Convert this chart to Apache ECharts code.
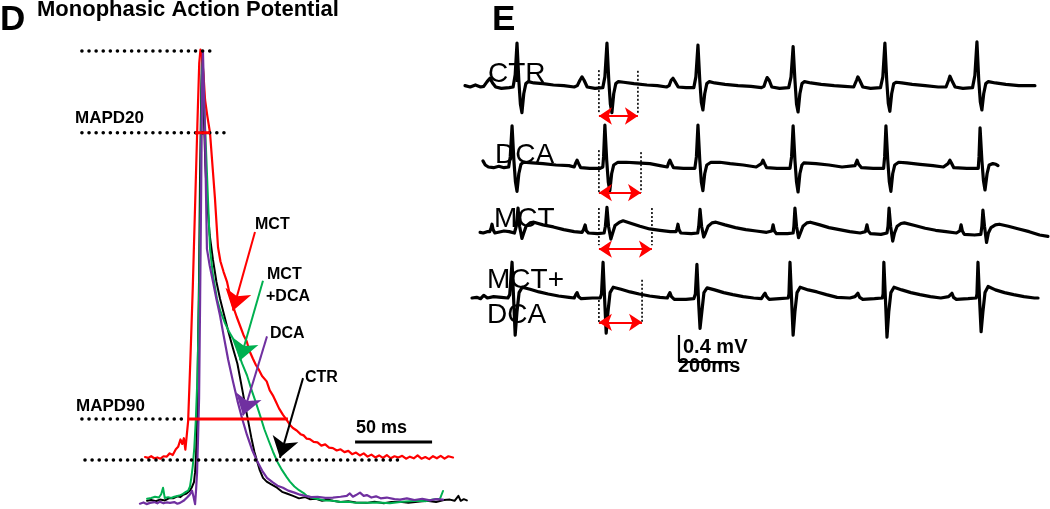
<!DOCTYPE html>
<html><head><meta charset="utf-8">
<script src="https://cdn.jsdelivr.net/npm/echarts/dist/echarts.min.js"></script>
<style>html,body{margin:0;padding:0;background:#fff;overflow:hidden}#c{width:1050px;height:509px}</style>
</head><body><div id="c"></div>
<script>
// ===== Panel D: monophasic action potentials, [time ms (0 = peak), amplitude % of peak] =====
const mapMCT = [[-37,0.7],[-35,0.5],[-33,0.9],[-31,0.4],[-29,0.6],[-27,0.3],[-25,0.9],[-23,0.8],[-21,1.6],[-19,1.2],[-17,2.6],[-15.5,3.2],[-14,5.0],[-12.8,3.9],[-11.8,5.3],[-10.8,2.5],[-10,2.2],[-9,9.5],[-7.5,25],[-6,42],[-4.5,62],[-3,82],[-1.8,97],[-1,100.3],[0,99],[1,94],[2,88],[3.5,84],[5.2,80],[7,71],[8.4,64],[10.4,52],[12,48.5],[14,46],[16.2,43.6],[18,40.5],[20,37.7],[22.5,35],[24.7,32.8],[27,30.5],[29,29],[31,26.5],[33,24.8],[35,23.2],[37,22],[39,20.5],[42,19.2],[44,17],[46,15.8],[48,14.2],[50,12.6],[52.6,11],[55,9.8],[57,8.6],[59,7.8],[61.5,7.2],[64,6.3],[66,6.0],[68,5.2],[70,5.1],[72.5,4.4],[75,4.3],[77.5,3.5],[80,3.8],[82.5,3.0],[85,2.9],[87.5,2.3],[90,2.6],[92.5,1.9],[95,2.2],[97.5,1.4],[100,1.8],[102.5,1.1],[105,1.6],[107.5,0.8],[110,1.3],[112.5,0.6],[115,1.1],[117.5,0.5],[120,1.2],[122.5,0.4],[125,0.9],[127.5,0.6],[130,1.0],[132.5,0.3],[135,0.8],[137.5,0.4],[140,1.1],[142.5,0.3],[145,0.7],[147.5,0.2],[150,0.9],[152.5,0.4],[155,1.0],[157.5,0.3],[160,0.9],[163,0.6]];
const mapMCTDCA = [[-35.7,-9.5],[-33,-9.3],[-30.5,-9.0],[-28,-9.2],[-26.5,-8.4],[-25.3,-6.8],[-24.2,-9.3],[-22,-9.1],[-20,-9.3],[-18,-9.0],[-16,-8.8],[-14,-8.6],[-12.3,-8.3],[-10.5,-7.8],[-9,-7.5],[-7.8,-6.5],[-7,-4.5],[-6,-1.5],[-5,3],[-4,10],[-3,20],[-2,38],[-1,62],[-0.3,90],[0.3,99.5],[1.3,88],[2.6,76],[3.9,63.7],[5.2,51.6],[7,45.5],[9.7,39.4],[12,36.3],[15,33.4],[17.5,31.4],[20.1,29.7],[23,26.8],[26,23.6],[29.2,20.7],[32,17.3],[35,14],[37.7,10.9],[40.5,7.5],[43.5,4.5],[46.1,2.0],[49,-0.5],[52,-2.5],[55,-4.2],[57.1,-5.3],[60,-6.5],[63,-7.4],[66,-8.1],[68.2,-8.8],[72,-9.3],[76,-9.6],[80,-9.9],[85,-10.0],[90,-10.3],[95,-10.2],[100,-10.5],[107,-10.5],[115,-10.4],[122,-10.6],[130,-10.2],[139.6,-10.0],[145,-10.1],[150,-9.7],[154.5,-9.5],[156.5,-7.6]];
const mapCTR = [[-35.7,-10.0],[-33,-9.8],[-30,-10.1],[-27.3,-9.7],[-24,-9.9],[-21,-9.3],[-18.8,-9.4],[-16,-8.9],[-14,-9.1],[-12.3,-8.5],[-10,-8.2],[-7.8,-7.5],[-6.5,-6.6],[-5.2,-5.4],[-4.5,-3],[-3.9,0.5],[-3.2,10],[-2.6,27],[-1.9,45],[-1.3,68.6],[-0.5,90],[0,99],[0.6,97],[1.3,83],[2.2,72],[3.2,63.7],[5,55],[7.1,49],[9.4,43.5],[11.7,39.4],[14,36],[17,31.5],[20.1,27.3],[23,23.5],[26,17.5],[29.2,11],[32,5.5],[34,2],[35.7,-0.2],[37.5,-2.5],[39.6,-4.4],[42,-5.3],[45,-6.0],[48.7,-6.8],[52,-7.8],[55,-8.2],[59.1,-8.8],[63,-9.4],[67,-9.1],[70,-9.6],[74,-9.5],[78,-10.0],[82,-9.7],[85,-10.0],[90,-10.3],[95,-10.1],[100,-10.4],[107,-10.5],[112,-10.2],[118,-10.6],[123,-10.3],[128.6,-10.2],[134,-10.5],[140,-10.2],[146,-10.0],[152,-10.3],[157,-9.8],[161,-9.7],[164,-10.0],[166.5,-8.8],[168,-10.0],[170,-9.6],[172,-9.9]];
const mapDCA = [[-40.3,-10.7],[-38,-10.4],[-36,-10.8],[-33.8,-10.5],[-31,-10.3],[-29,-10.6],[-27.3,-10.2],[-25,-10.6],[-23,-10.4],[-20.8,-10.5],[-18,-10.3],[-16,-10.7],[-14.3,-10.5],[-12,-10.0],[-9.7,-9.2],[-8,-8.5],[-6.5,-7.5],[-5.5,-9.0],[-4.5,-10.8],[-3.8,-7],[-3.2,-3],[-2.6,5],[-1.9,15],[-1.2,40],[-0.6,63.7],[0,90],[0.6,100],[1.2,91],[1.9,80.8],[2.6,65],[3.2,51.6],[5,47.5],[7.1,43.6],[9.4,39.3],[11.7,35.3],[14,30.5],[17,24.5],[20.1,19.2],[23,14.5],[26,10.2],[29.2,6.1],[32.5,2.5],[35.7,-0.2],[39,-2.6],[42.2,-4.4],[46,-5.5],[49,-6.3],[52.6,-6.8],[56,-7.5],[60,-8.0],[63.6,-8.5],[67,-8.8],[71,-9.1],[75,-9.0],[80,-9.3],[85,-9.2],[90,-9.0],[94,-8.8],[96,-8.2],[98,-9.0],[100,-8.6],[102.6,-8.0],[105,-8.8],[107,-8.6],[110,-9.2],[113,-8.9],[116,-9.4],[120,-9.2],[125,-9.6],[128.6,-9.7],[133,-9.4],[138,-9.8],[143,-9.5],[148,-9.9],[152,-9.6],[156.5,-9.7]];
// reference levels (% of peak) and their extents (ms)
const levelPeak = [[-78,100],[6.5,100]];
const levelMAPD20 = [[-78,80],[15,80]];
const levelMAPD90 = [[-78,10],[-9,10]];
const levelBase = [[-76,0],[128.6,0]];
const durMAPD20 = [[-4.5,80],[5.2,80]];
const durMAPD90 = [[-9.1,10],[55.8,10]];
const scaleBar50ms = [[99.4,4.4],[149.4,4.4]];
// label arrows [from, to]
const arrowMCT = [[34.4,55.7],[20.1,36.5]];
const arrowMCTDCA = [[39.6,43.8],[24.7,24.3]];
const arrowDCA = [[42.2,30.2],[26.6,10.9]];
const arrowCTR = [[65.6,20],[50.6,0.5]];

// ===== Panel E: ECG traces, [time ms, mV] =====
const ecgCTR = [[0,0.02],[20,0.0],[40,0.03],[60,0.0],[72,0.01],[85,0.08],[96,0.13],[106,0.06],[118,0.0],[140,-0.02],[170,-0.01],[185,0.0],[193,0.18],[200,0.65],[207,0.1],[213,-0.25],[219,-0.38],[226,-0.1],[234,0.05],[244,0.08],[265,0.06],[300,0.05],[340,0.03],[380,0.02],[420,0.0],[432,0.02],[442,0.1],[450,0.15],[458,0.1],[470,0.0],[500,-0.02],[530,-0.01],[538,0.15],[546,0.65],[553,0.1],[559,-0.25],[565,-0.38],[572,-0.1],[580,0.05],[590,0.08],[610,0.07],[650,0.05],[700,0.03],[740,0.02],[775,0.0],[785,0.02],[793,0.1],[800,0.13],[808,0.08],[820,0.0],[850,-0.01],[880,-0.01],[888,0.15],[896,0.62],[903,0.1],[909,-0.23],[915,-0.34],[922,-0.1],[930,0.05],[940,0.08],[960,0.06],[1000,0.04],[1050,0.02],[1100,0.01],[1140,-0.01],[1150,0.01],[1156,0.08],[1162,0.14],[1170,0.1],[1180,0.0],[1210,-0.02],[1245,-0.01],[1254,0.15],[1262,0.6],[1269,0.1],[1275,-0.25],[1281,-0.37],[1288,-0.1],[1296,0.05],[1306,0.08],[1330,0.06],[1370,0.04],[1420,0.02],[1460,0.01],[1495,0.0],[1502,0.02],[1506,0.1],[1511,0.15],[1518,0.1],[1530,0.0],[1560,-0.02],[1598,-0.01],[1607,0.15],[1615,0.65],[1622,0.1],[1628,-0.24],[1634,-0.36],[1641,-0.1],[1649,0.05],[1659,0.07],[1680,0.06],[1720,0.04],[1770,0.02],[1820,0.0],[1850,0.0],[1856,0.02],[1860,0.1],[1865,0.16],[1872,0.1],[1885,0.0],[1915,-0.02],[1952,-0.01],[1961,0.17],[1969,0.67],[1976,0.1],[1982,-0.22],[1988,-0.34],[1995,-0.1],[2003,0.05],[2013,0.08],[2040,0.06],[2080,0.04],[2130,0.02],[2192,0.02]];
const ecgDCA = [[69,0.09],[78,0.03],[90,0.0],[110,-0.01],[130,0.01],[150,-0.01],[168,0.0],[174,0.15],[181,0.61],[188,0.1],[194,-0.22],[200,-0.36],[207,-0.1],[215,0.04],[225,0.07],[260,0.06],[300,0.05],[350,0.03],[400,0.02],[420,0.0],[426,0.06],[431,0.1],[437,0.05],[445,-0.01],[480,-0.02],[520,-0.02],[530,0.0],[533,0.15],[538,0.62],[545,0.1],[551,-0.22],[557,-0.35],[564,-0.1],[572,0.03],[588,0.07],[620,0.07],[660,0.06],[711,0.05],[750,0.02],[778,0.0],[783,0.06],[788,0.1],[794,0.05],[802,-0.01],[840,-0.02],[884,-0.02],[890,0.15],[896,0.62],[903,0.1],[909,-0.22],[915,-0.35],[922,-0.1],[930,0.03],[946,0.07],[980,0.07],[1020,0.05],[1070,0.03],[1120,0.0],[1140,0.05],[1146,0.1],[1152,0.05],[1160,-0.01],[1200,-0.02],[1250,-0.02],[1256,0.15],[1262,0.61],[1269,0.1],[1275,-0.22],[1281,-0.37],[1288,-0.1],[1296,0.03],[1303,0.06],[1310,0.07],[1350,0.05],[1400,0.03],[1450,0.0],[1500,0.02],[1508,0.1],[1514,0.04],[1525,-0.01],[1570,-0.02],[1610,-0.02],[1614,0.15],[1619,0.61],[1626,0.1],[1632,-0.22],[1638,-0.36],[1645,-0.1],[1653,0.03],[1668,0.07],[1700,0.06],[1750,0.04],[1800,0.02],[1840,0.0],[1858,0.05],[1865,0.1],[1872,0.05],[1880,-0.01],[1930,-0.02],[1974,-0.02],[1977,0.15],[1981,0.58],[1988,0.1],[1994,-0.2],[2000,-0.34],[2008,-0.1],[2016,0.03],[2030,0.05],[2042,0.04],[2050,0.02]];
const ecgMCT = [[58,0.01],[70,0.0],[85,0.02],[95,0.02],[100,0.07],[104,0.13],[108,0.05],[115,0.0],[150,0.03],[170,0.02],[190,0.0],[197,0.1],[204,0.37],[210,0.1],[219,-0.08],[226,0.0],[235,0.1],[250,0.15],[265,0.16],[300,0.12],[340,0.09],[380,0.05],[420,0.02],[450,0.01],[456,0.05],[462,0.12],[467,0.03],[475,0.0],[510,-0.01],[535,0.0],[540,0.1],[546,0.38],[552,0.1],[561,-0.09],[568,0.0],[577,0.11],[594,0.16],[608,0.18],[640,0.14],[673,0.1],[710,0.06],[750,0.04],[790,0.02],[812,0.02],[816,0.07],[819,0.13],[823,0.05],[830,0.0],[870,-0.01],[895,0.0],[899,0.1],[904,0.35],[910,0.1],[918,-0.06],[925,0.0],[935,0.1],[950,0.15],[965,0.16],[1000,0.12],[1040,0.08],[1080,0.05],[1120,0.03],[1160,0.01],[1180,0.03],[1185,0.12],[1190,0.03],[1198,-0.01],[1240,-0.01],[1262,0.0],[1265,0.1],[1269,0.37],[1275,0.1],[1283,-0.07],[1290,0.0],[1300,0.1],[1315,0.15],[1328,0.16],[1365,0.12],[1400,0.08],[1440,0.05],[1480,0.02],[1520,0.0],[1540,0.02],[1546,0.12],[1551,0.03],[1560,-0.01],[1600,-0.02],[1623,0.0],[1627,0.1],[1631,0.37],[1637,0.1],[1645,-0.12],[1652,0.0],[1662,0.1],[1677,0.14],[1690,0.15],[1730,0.11],[1770,0.07],[1810,0.04],[1850,0.02],[1890,0.0],[1903,0.03],[1908,0.12],[1913,0.03],[1920,-0.02],[1960,-0.03],[1984,-0.02],[1988,0.1],[1992,0.34],[1998,0.1],[2006,-0.14],[2013,0.0],[2023,0.08],[2040,0.12],[2055,0.13],[2090,0.1],[2130,0.06],[2170,0.02],[2210,-0.03],[2242,-0.05]];
const ecgMCTDCA = [[27,0.0],[45,0.01],[60,-0.01],[72,0.04],[79,0.06],[86,0.0],[110,0.02],[140,0.01],[165,0.0],[172,0.05],[181,0.53],[188,-0.1],[193,-0.55],[200,-0.2],[208,0.08],[220,0.16],[250,0.13],[285,0.09],[320,0.06],[360,0.03],[400,0.01],[420,0.0],[426,0.05],[431,0.08],[437,0.02],[447,-0.01],[490,0.0],[520,0.0],[525,0.06],[531,0.53],[538,-0.1],[543,-0.52],[550,-0.2],[558,0.08],[570,0.16],[600,0.13],[635,0.09],[670,0.06],[710,0.03],[750,0.01],[778,0.0],[783,0.04],[788,0.08],[794,0.02],[805,-0.02],[850,-0.02],[880,-0.01],[886,0.06],[892,0.5],[899,-0.1],[904,-0.45],[911,-0.2],[919,0.08],[931,0.15],[960,0.12],[995,0.08],[1030,0.05],[1070,0.02],[1110,0.0],[1140,-0.01],[1148,0.04],[1154,0.07],[1160,0.02],[1170,-0.02],[1210,-0.01],[1243,0.0],[1246,0.06],[1250,0.53],[1257,-0.1],[1262,-0.55],[1269,-0.2],[1277,0.08],[1289,0.16],[1320,0.12],[1354,0.09],[1390,0.05],[1431,0.01],[1480,0.0],[1500,0.02],[1511,0.07],[1518,0.01],[1530,-0.02],[1575,-0.01],[1605,0.0],[1608,0.06],[1611,0.53],[1618,-0.1],[1623,-0.58],[1630,-0.2],[1638,0.08],[1650,0.16],[1680,0.12],[1715,0.08],[1750,0.05],[1790,0.02],[1830,0.0],[1860,0.02],[1873,0.07],[1879,0.01],[1890,-0.02],[1935,-0.01],[1966,0.0],[1969,0.06],[1973,0.53],[1980,-0.1],[1985,-0.5],[1992,-0.2],[2000,0.08],[2012,0.17],[2040,0.12],[2075,0.08],[2110,0.05],[2150,0.02],[2190,0.0],[2204,0.0]];
// QT-interval markers: [start ms, end ms, dotted top mV (start), dotted top mV (end), bottom mV, arrow mV]
const qtCTR = [515, 665, 0.25, 0.24, -0.385, -0.43];
const qtDCA = [515, 677, 0.25, 0.22, -0.38, -0.38];
const qtMCT = [515, 719, 0.37, 0.37, -0.18, -0.24];
const qtMCTDCA = [515, 681, -0.03, 0.27, -0.37, -0.36];
// ECG scale bars: 0.4 mV and 200 ms
const ecgScaleOrigin = [823, -0.948];
const ecgScaleMv = 0.4;
const ecgScaleMs = 200;

// ===== layout =====
const DG = {x0: 202, pxPerMs: 1.54, y0: 462, pxPerUnit: 4.11, xMin: -80, xMax: 175, yMin: -12, yMax: 105};
const EG = {left: 465, pxPerMs: 0.26, xMax: 2250, pxPerMv: 67.5, yMin: -1.2, yMax: 1.0, baselines: [87, 167, 233, 298]};

const grids = [{
  left: DG.x0 + DG.xMin * DG.pxPerMs, width: (DG.xMax - DG.xMin) * DG.pxPerMs,
  top: DG.y0 - DG.yMax * DG.pxPerUnit, height: (DG.yMax - DG.yMin) * DG.pxPerUnit
}];
EG.baselines.forEach(b => grids.push({
  left: EG.left, width: EG.xMax * EG.pxPerMs,
  top: b - EG.yMax * EG.pxPerMv, height: (EG.yMax - EG.yMin) * EG.pxPerMv
}));
const xAxes = grids.map((g, i) => ({type: 'value', gridIndex: i, show: false,
  min: i === 0 ? DG.xMin : 0, max: i === 0 ? DG.xMax : EG.xMax}));
const yAxes = grids.map((g, i) => ({type: 'value', gridIndex: i, show: false,
  min: i === 0 ? DG.yMin : EG.yMin, max: i === 0 ? DG.yMax : EG.yMax}));

const series = [];
function trace(data, color, width, gi, z) {
  series.push({type: 'line', xAxisIndex: gi, yAxisIndex: gi, data: data, showSymbol: false, symbol: 'none',
    silent: true, z: z || 2, lineStyle: {color: color, width: width, join: 'round', cap: 'round'}});
}
const dots = {type: [0.1, 7], cap: 'round'};
function seg(data, color, width, gi, dash, z) {
  series.push({type: 'line', xAxisIndex: gi, yAxisIndex: gi, data: data, showSymbol: false, symbol: 'none',
    silent: true, z: z || 3, lineStyle: Object.assign({color: color, width: width}, dash || {})});
}
function arrows(list, gi, syms, size, width) {
  series.push({type: 'lines', coordinateSystem: 'cartesian2d', xAxisIndex: gi, yAxisIndex: gi, silent: true, z: 4,
    symbol: syms, symbolSize: size,
    data: list.map(a => ({coords: a.c, lineStyle: {color: a.color, width: width, opacity: 1}}))});
}

// Panel D traces
trace(mapCTR, '#000000', 2, 0);
trace(mapMCTDCA, '#00B050', 2, 0);
trace(mapMCT, '#FF0000', 2.2, 0);
trace(mapDCA, '#7030A0', 2.2, 0);
seg(levelPeak, '#000', 3.5, 0, dots);
seg(levelMAPD20, '#000', 3.5, 0, dots);
seg(levelMAPD90, '#000', 3.5, 0, dots);
seg(levelBase, '#000', 3.5, 0, dots);
seg(durMAPD20, '#FF0000', 3, 0);
seg(durMAPD90, '#FF0000', 3, 0);
seg(scaleBar50ms, '#000', 3, 0);
arrows([{c: arrowMCT, color: '#FF0000'}, {c: arrowMCTDCA, color: '#00B050'},
        {c: arrowDCA, color: '#7030A0'}, {c: arrowCTR, color: '#000000'}], 0, ['none', 'arrow'], 20, 2);

// Panel E traces
[ecgCTR, ecgDCA, ecgMCT, ecgMCTDCA].forEach((d, i) => trace(d, '#000', 3.2, i + 1));
[qtCTR, qtDCA, qtMCT, qtMCTDCA].forEach((q, i) => {
  const gi = i + 1;
  const edots = {type: [2, 2]};
  seg([[q[0], q[2]], [q[0], q[4]]], '#000', 1.6, gi, edots);
  seg([[q[1], q[3]], [q[1], q[4]]], '#000', 1.6, gi, edots);
  arrows([{c: [[q[0], q[5]], [q[1], q[5]]], color: '#FF0000'}], gi, ['arrow', 'arrow'], 13, 1.8);
});
seg([ecgScaleOrigin, [ecgScaleOrigin[0], ecgScaleOrigin[1] + ecgScaleMv]], '#000', 2.2, 4);
seg([ecgScaleOrigin, [ecgScaleOrigin[0] + ecgScaleMs, ecgScaleOrigin[1]]], '#000', 2.2, 4);

// ===== text =====
const AR = '"Liberation Sans", Arial, sans-serif';
function txt(s, x, y, size, weight) {
  return {type: 'text', x: x, y: y, silent: true, z: 10,
    style: {text: s, fill: '#000', font: (weight || 'normal') + ' ' + size + 'px ' + AR, align: 'left', verticalAlign: 'middle'}};
}
const graphic = [
  txt('D', 0, 20, 35, 'bold'),
  txt('Monophasic Action Potential', 37, 10, 22, 'bold'),
  txt('MAPD20', 75, 118, 17, 'bold'),
  txt('MAPD90', 76, 406, 17, 'bold'),
  txt('MCT', 255, 225, 16, 'bold'),
  txt('MCT', 267, 275, 16, 'bold'),
  txt('+DCA', 266, 297, 16, 'bold'),
  txt('DCA', 270, 334, 16, 'bold'),
  txt('CTR', 305, 378, 16, 'bold'),
  txt('50 ms', 356, 428, 18, 'bold'),
  txt('E', 492, 20, 35, 'bold'),
  txt('CTR', 488, 74, 28),
  txt('DCA', 495, 155, 28),
  txt('MCT', 494, 219, 28),
  txt('MCT+', 487, 280, 28),
  txt('DCA', 487, 315, 28),
  txt('0.4 mV', 683, 347, 20, 'bold'),
  txt('200ms', 678, 366, 20, 'bold')
];

const chart = echarts.init(document.getElementById('c'), null, {renderer: 'canvas'});
chart.setOption({
  animation: false,
  backgroundColor: '#ffffff',
  grid: grids, xAxis: xAxes, yAxis: yAxes,
  series: series,
  graphic: graphic
});
</script>
</body></html>
